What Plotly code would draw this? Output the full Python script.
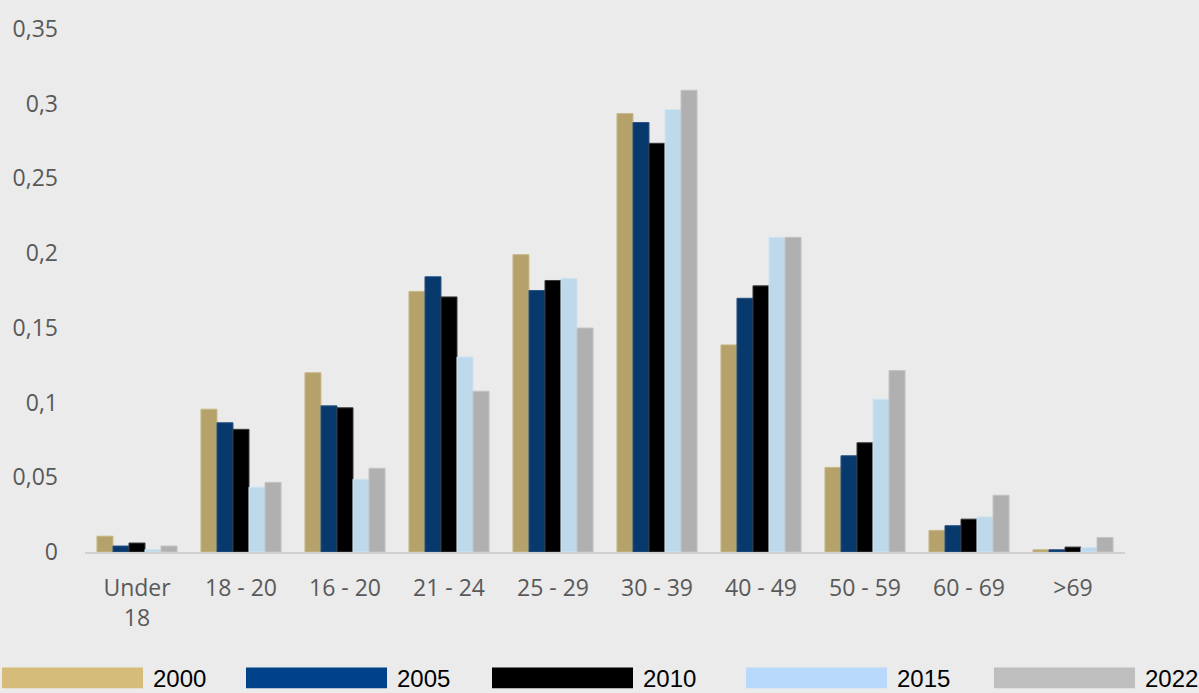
import plotly.graph_objects as go

categories = ["Under<br>18", "18 - 20", "16 - 20", "21 - 24", "25 - 29",
              "30 - 39", "40 - 49", "50 - 59", "60 - 69", ">69"]
years = ["2000", "2005", "2010", "2015", "2022"]

v2000 = [0.0106, 0.0956, 0.1200, 0.1744, 0.1990, 0.2934, 0.1386, 0.0566, 0.0145, 0.0015]
v2005 = [0.0040, 0.0865, 0.0978, 0.1842, 0.1750, 0.2874, 0.1698, 0.0644, 0.0176, 0.0015]
v2010 = [0.0060, 0.0821, 0.0965, 0.1707, 0.1817, 0.2735, 0.1781, 0.0731, 0.0220, 0.0033]
v2015 = [0.0017, 0.0434, 0.0487, 0.1305, 0.1832, 0.2960, 0.2106, 0.1022, 0.0235, 0.0030]
v2022 = [0.0040, 0.0466, 0.0560, 0.1076, 0.1499, 0.3090, 0.2106, 0.1215, 0.0380, 0.0097]
series = [v2000, v2005, v2010, v2015, v2022]

bar_colors = ["#B5A16A", "#07396C", "#000000", "#BDD9EB", "#B0B0B0"]
edge_colors = ["#C9B888", "#2A5484", "#3A3A3A", "#CFE3F0", "#C4C4C4"]
legend_colors = ["#D6BC7A", "#00428A", "#000000", "#B8D8FC", "#BEBEBE"]

ytick_vals = [0, 0.05, 0.1, 0.15, 0.2, 0.25, 0.3, 0.35]
ytick_text = ["0", "0,05", "0,1", "0,15", "0,2", "0,25", "0,3", "0,35"]

W, H = 1199, 693
ML, MR, MT, MB = 85, 74, 18, 141
PW, PH = W - ML - MR, H - MT - MB

fig = go.Figure()
for name, vals, c, ec in zip(years, series, bar_colors, edge_colors):
    fig.add_trace(go.Bar(x=categories, y=vals, name=name,
                         marker=dict(color=c, line=dict(color=ec, width=1))))

def px_x(p):
    return (p - ML) / PW

def px_y(p):
    return (H - MB - p) / PH

# custom legend (wide swatches)
sw_left = [2, 246, 492, 746, 994]
sw_w = 141
shapes = []
annotations = []
for name, lc, left in zip(years, legend_colors, sw_left):
    shapes.append(dict(type="rect", xref="paper", yref="paper",
                       x0=px_x(left), x1=px_x(left + sw_w),
                       y0=px_y(691), y1=px_y(670),
                       fillcolor=lc, line=dict(width=0), layer="above"))
    annotations.append(dict(xref="paper", yref="paper", x=px_x(left + sw_w + 8),
                            y=px_y(681), text=name, showarrow=False,
                            xanchor="left", yanchor="middle",
                            font=dict(family="Liberation Sans, Arial", size=24,
                                      color="#000000")))

fig.update_layout(
    width=W, height=H,
    margin=dict(l=ML, r=MR, t=MT, b=MB),
    paper_bgcolor="#EBEBEB", plot_bgcolor="#EBEBEB",
    barmode="group", bargap=0.23, bargroupgap=0,
    showlegend=False,
    font=dict(family="Open Sans", size=23, color="#595959"),
    shapes=shapes, annotations=annotations,
    xaxis=dict(showgrid=False, showline=True, linecolor="#D0D0D0", linewidth=2,
               ticks="", ticklabelstandoff=14,
               tickfont=dict(family="Open Sans", size=23, color="#595959")),
    yaxis=dict(range=[0, 0.35], showgrid=False, zeroline=False, showline=False,
               tickvals=ytick_vals, ticktext=ytick_text, ticks="",
               ticklabelstandoff=26,
               tickfont=dict(family="Open Sans", size=23, color="#595959")),
)

fig.write_html("out.html", config={"displayModeBar": False})

with open("out.html", "r", encoding="utf-8") as f:
    html = f.read()
html = html.replace("<head>", "<head><style>html,body{margin:0;padding:0;overflow:hidden;background:#EBEBEB;}</style>", 1)
with open("out.html", "w", encoding="utf-8") as f:
    f.write(html)
